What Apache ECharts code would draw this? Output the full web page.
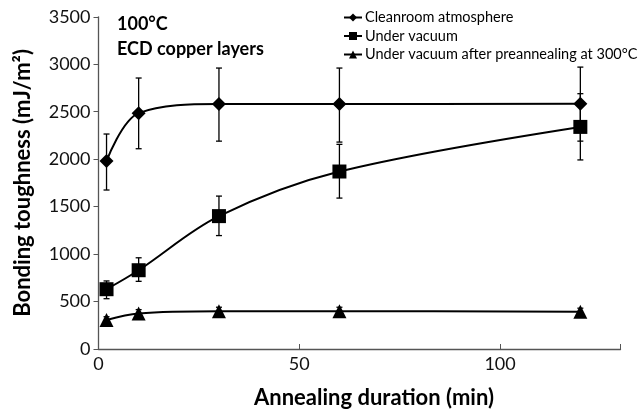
<!DOCTYPE html>
<html><head><meta charset="utf-8">
<script src="https://cdn.jsdelivr.net/npm/echarts@6/dist/echarts.min.js"></script>
<style>html,body{margin:0;padding:0;background:#fff}#c{width:644px;height:414px}</style>
</head><body><div id="c"></div>
<script>
const durations = [2, 10, 30, 60, 120];
const cleanroom = [1980, 2485, 2580, 2580, 2585];
const cleanroomLow = [1675, 2110, 2190, 2180, 2190];
const cleanroomHigh = [2265, 2855, 2960, 2960, 2970];
const vacuum = [630, 830, 1400, 1870, 2340];
const vacuumLow = [530, 713, 1195, 1590, 1992];
const vacuumHigh = [717, 961, 1611, 2156, 2690];
const preanneal = [305, 375, 398, 398, 392];
const preannealLow = [270, 335, 360, 360, 355];
const preannealHigh = [340, 415, 440, 440, 430];
const seriesNames = ['Cleanroom atmosphere', 'Under vacuum', 'Under vacuum after preannealing at 300°C'];
const annotation = ['100°C', 'ECD copper layers'];

const FONT = 'Lato';
function pts(vals){ return durations.map((d,i)=>[d, vals[i]]); }
function errs(lo, hi){ return durations.map((d,i)=>[d, lo[i], hi[i]]); }
function errSeries(lo, hi){
  return {
    type: 'custom', silent: true, z: 3,
    data: errs(lo, hi),
    encode: { x: 0, y: [1, 2] },
    renderItem: function(params, api){
      const x = api.value(0);
      const a = api.coord([x, api.value(1)]);
      const b = api.coord([x, api.value(2)]);
      const w = 3;
      const st = { stroke: '#000', lineWidth: 1.3 };
      return { type: 'group', children: [
        { type: 'line', shape: { x1: a[0], y1: a[1], x2: b[0], y2: b[1] }, style: st },
        { type: 'line', shape: { x1: a[0]-w, y1: a[1], x2: a[0]+w, y2: a[1] }, style: st },
        { type: 'line', shape: { x1: b[0]-w, y1: b[1], x2: b[0]+w, y2: b[1] }, style: st }
      ]};
    }
  };
}
function lineSeries(name, vals, symbol, size){
  return {
    name: name, type: 'line', data: pts(vals), smooth: 0.35, z: 4,
    symbol: symbol, symbolSize: size,
    lineStyle: { color: '#000', width: 2 },
    itemStyle: { color: '#000' }
  };
}
const chart = echarts.init(document.getElementById('c'));
chart.setOption({
  animation: false,
  grid: { left: 98.5, top: 16.8, width: 522, height: 334 },
  legend: {
    orient: 'vertical', left: 338, top: 4, itemGap: 1.5,
    itemWidth: 18, itemHeight: 10,
    textStyle: { fontFamily: FONT, fontSize: 14.5, lineHeight: 17, color: '#000', padding: [0,0,0,-2] },
    data: seriesNames
  },
  graphic: [
    { type: 'text', x: 117, y: 24, style: { text: annotation[0], font: 'bold 18px ' + FONT, fill: '#000', verticalAlign: 'middle' } },
    { type: 'text', x: 117, y: 49.5, style: { text: annotation[1], font: 'bold 18px ' + FONT, fill: '#000', verticalAlign: 'middle' } }
  ],
  xAxis: {
    type: 'value', min: 0, max: 130, interval: 50,
    name: 'Annealing duration (min)', nameLocation: 'middle', nameGap: 38,
    nameTextStyle: { fontFamily: FONT, fontSize: 22, fontWeight: 'bold', color: '#000', padding: [0,0,0,29] },
    axisLine: { lineStyle: { color: '#555', width: 1.3 } },
    axisTick: { inside: true, length: 5, lineStyle: { color: '#555' } },
    axisLabel: { fontFamily: FONT, fontSize: 18, color: '#111', margin: 6,
      formatter: v => (v % 50 === 0 ? String(v) : '') },
    splitLine: { show: false }
  },
  yAxis: {
    type: 'value', min: 0, max: 3500, interval: 500,
    name: 'Bonding toughness (mJ/m²)', nameLocation: 'middle', nameGap: 65,
    nameTextStyle: { fontFamily: FONT, fontSize: 22, fontWeight: 'bold', color: '#000' },
    axisLine: { show: true, lineStyle: { color: '#555', width: 1.3 } },
    axisTick: { show: true, length: 5, lineStyle: { color: '#555' } },
    axisLabel: { fontFamily: FONT, fontSize: 18, color: '#111', margin: 8, formatter: v => String(v) },
    splitLine: { show: false }
  },
  series: [
    errSeries(cleanroomLow, cleanroomHigh),
    errSeries(vacuumLow, vacuumHigh),
    errSeries(preannealLow, preannealHigh),
    lineSeries(seriesNames[0], cleanroom, 'diamond', 14),
    lineSeries(seriesNames[1], vacuum, 'rect', 14),
    lineSeries(seriesNames[2], preanneal, 'triangle', 14)
  ]
});
</script></body></html>
